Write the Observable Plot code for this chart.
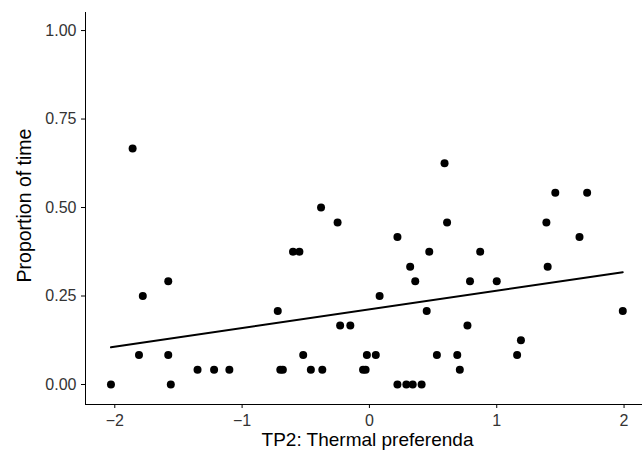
<!DOCTYPE html>
<html>
<head>
<meta charset="utf-8">
<script src="https://cdn.jsdelivr.net/npm/d3@7"></script>
<script src="https://cdn.jsdelivr.net/npm/@observablehq/plot@0.6"></script>
<style>
  html, body { margin: 0; padding: 0; background: #fff; }
  #chart { width: 643px; height: 460px; }
  #chart svg text { font-size: 16px !important; fill: #333 !important; }
  #chart svg g.xtitle text { font-size: 19px !important; fill: #000 !important; }
  #chart svg g.ytitle text { font-size: 19.5px !important; fill: #000 !important; }
</style>
</head>
<body>
<div id="chart"></div>
<script>
const thermalPref = [-2.03, -1.86, -1.81, -1.78, -1.58, -1.58, -1.56, -1.35, -1.22, -1.10,
  -0.72, -0.70, -0.68, -0.60, -0.55, -0.52, -0.46, -0.38, -0.37, -0.25,
  -0.23, -0.15, -0.05, -0.03, -0.02, 0.05, 0.08, 0.22, 0.22, 0.29,
  0.34, 0.41, 0.32, 0.36, 0.45, 0.47, 0.53, 0.59, 0.61, 0.69,
  0.71, 0.77, 0.79, 0.87, 1.00, 1.16, 1.19, 1.39, 1.40, 1.46,
  1.65, 1.71, 1.99];
const propTime = [0, 0.667, 0.083, 0.25, 0.292, 0.083, 0, 0.042, 0.042, 0.042,
  0.208, 0.042, 0.042, 0.375, 0.375, 0.083, 0.042, 0.5, 0.042, 0.458,
  0.167, 0.167, 0.042, 0.042, 0.083, 0.083, 0.25, 0.417, 0, 0,
  0, 0, 0.333, 0.292, 0.208, 0.375, 0.083, 0.625, 0.458, 0.083,
  0.042, 0.167, 0.292, 0.375, 0.292, 0.083, 0.125, 0.458, 0.333, 0.542,
  0.417, 0.542, 0.208];
const xTicks = [-2, -1, 0, 1, 2];
const yTicks = [0, 0.25, 0.5, 0.75, 1];
const xLabel = "TP2: Thermal preferenda";
const yLabel = "Proportion of time";

const data = thermalPref.map((x, i) => ({x, y: propTime[i]}));
const fmtX = d => d < 0 ? "\u2212" + Math.abs(d) : String(d);
const fmtY = d3.format(".2f");

const chart = Plot.plot({
  width: 643,
  height: 460,
  marginLeft: 85,
  marginRight: 2,
  marginTop: 12,
  marginBottom: 56,
  style: {fontFamily: "'Liberation Sans', Arial, sans-serif", fontSize: "16px", color: "#000", background: "#fff"},
  x: {domain: [-2.23, 2.137], ticks: xTicks, tickFormat: fmtX, line: true, tickSize: 4, tickPadding: 6, label: null},
  y: {domain: [-0.0565, 1.051], ticks: yTicks, tickFormat: fmtY, line: true, tickSize: 4, tickPadding: 5, label: null},
  marks: [
    Plot.dot(data, {x: "x", y: "y", r: 4, fill: "#000", stroke: null}),
    Plot.linearRegressionY(data, {x: "x", y: "y", ci: 0, stroke: "#000", strokeWidth: 2}),
    Plot.text([xLabel], {className: "xtitle", frameAnchor: "bottom", dx: 4, dy: 41, fontSize: 19, fill: "#000"}),
    Plot.text([yLabel], {className: "ytitle", frameAnchor: "left", textAnchor: "middle", dx: -61, dy: -3, rotate: -90, fontSize: 19.5, fill: "#000"})
  ]
});
document.getElementById("chart").appendChild(chart);
</script>
</body>
</html>
